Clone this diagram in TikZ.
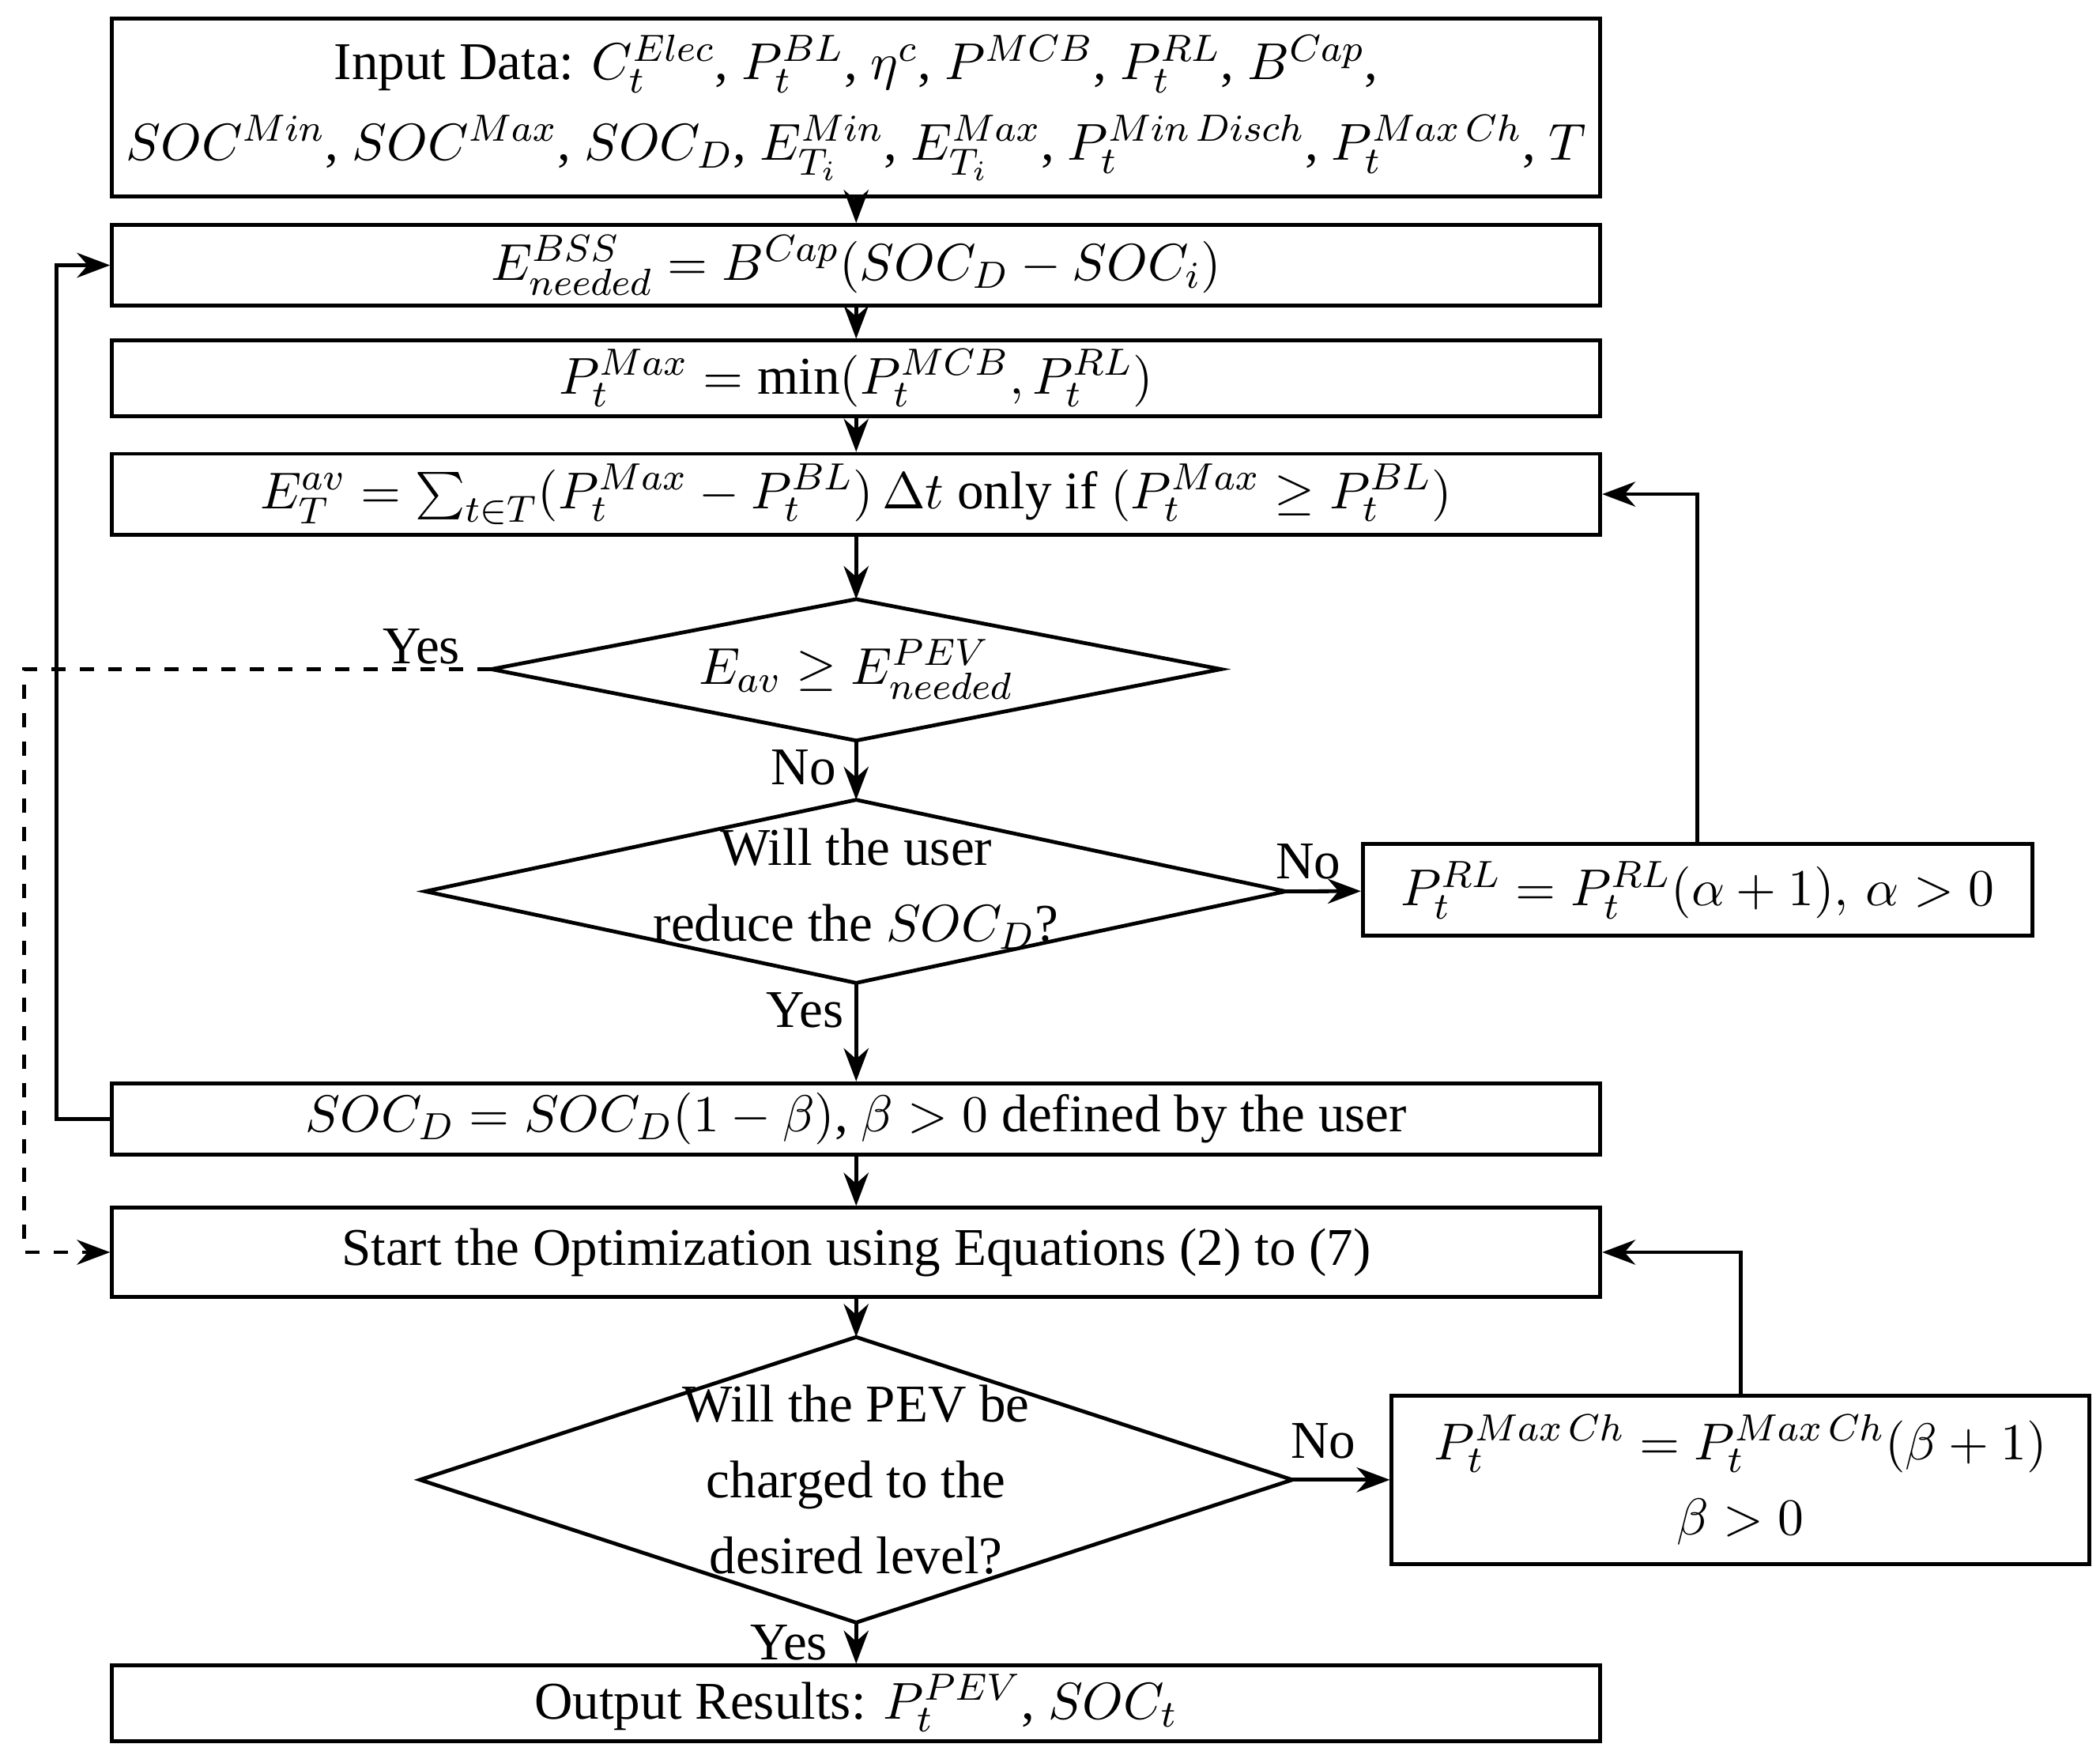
\documentclass[tikz,border=0pt]{standalone}
\usepackage{fontspec}
\setmainfont{Liberation Serif}
\usetikzlibrary{shapes.geometric,arrows.meta}
\begin{document}
\begin{tikzpicture}[x=0.01cm,y=-0.01cm,font=\fontsize{11.2}{15}\selectfont,
 box/.style={draw,thick,minimum width=11.05cm,align=center,inner sep=0pt},
 arr/.style={thick,-{Stealth[length=7pt]}},
 lab/.style={inner sep=1pt}]
\useasboundingbox (0,0) rectangle (1560,1306);
\node[box,minimum height=1.32cm] (in) at (636,80) {Input Data: $C_t^{Elec}$, $P_t^{BL}$, $\eta^c$, $P^{MCB}$, $P_t^{RL}$, $B^{Cap}$,\\[2pt] $SOC^{Min}$, $SOC^{Max}$, $SOC_D$, $E_{T_i}^{Min}$, $E_{T_i}^{Max}$, $P_t^{Min\,Disch}$, $P_t^{Max\,Ch}$, $T$};
\node[box,minimum height=0.6cm] (en) at (636,197) {$E^{BSS}_{needed}=B^{Cap}(SOC_D-SOC_i)$};
\node[box,minimum height=0.56cm] (pm) at (636,281) {$P_t^{Max}=\min(P_t^{MCB},P_t^{RL})$};
\node[box,minimum height=0.6cm] (ea) at (636,367) {$E_T^{av}=\sum_{t\in T}(P_t^{Max}-P_t^{BL})\,\Delta t$ only if $(P_t^{Max}\ge P_t^{BL})$};
\draw[thick] (365,497) -- (636,445) -- (907,497) -- (636,550) -- cycle;
\coordinate (d1l) at (365,497);
\node (d1) at (636,497) {$E_{av}\ge E^{PEV}_{needed}$};
\draw[thick] (316,662) -- (636,594) -- (955,662) -- (636,730) -- cycle;
\node[align=center] (d2) at (636,660) {Will the user\\[1pt] reduce the $SOC_D$?};
\coordinate (d2t) at (636,594); \coordinate (d2r) at (955,662); \coordinate (d2b) at (636,730);
\coordinate (d1b) at (636,550); \coordinate (d1t) at (636,445);
\node[draw,thick,minimum width=4.97cm,minimum height=0.68cm] (rl) at (1261,661) {$P_t^{RL}=P_t^{RL}(\alpha+1),\,\alpha>0$};
\node[box,minimum height=0.53cm] (soc) at (636,831) {$SOC_D=SOC_D(1-\beta)$, $\beta>0$ defined by the user};
\node[box,minimum height=0.66cm] (st) at (636,930) {Start the Optimization using Equations (2) to (7)};
\draw[thick] (312,1099) -- (636,993) -- (960,1099) -- (636,1205) -- cycle;
\node[align=center] (d3) at (636,1099) {Will the PEV be\\[1pt] charged to the\\[1pt] desired level?};
\coordinate (d3t) at (636,993); \coordinate (d3r) at (960,1099); \coordinate (d3b) at (636,1205);
\node[draw,thick,minimum width=5.18cm,minimum height=1.25cm,align=center] (ch) at (1293,1099) {$P_t^{Max\,Ch}=P_t^{Max\,Ch}(\beta+1)$\\[1pt] $\beta>0$};
\node[box,minimum height=0.56cm] (out) at (636,1265) {Output Results: $P_t^{PEV}$, $SOC_t$};
\draw[arr] (in) -- (en); \draw[arr] (en) -- (pm); \draw[arr] (pm) -- (ea);
\draw[arr] (ea) -- (d1t); \draw[arr] (d1b) -- (d2t); \draw[arr] (d2b) -- (soc);
\draw[arr] (d2r) -- (rl); \draw[arr] (soc) -- (st); \draw[arr] (st) -- (d3t);
\draw[arr] (d3r) -- (ch); \draw[arr] (d3b) -- (out);
\draw[arr] (soc.west) -- (42,831) -- (42,197) -- (en.west);
\draw[arr] (rl.north) |- (ea.east);
\draw[arr] (ch.north) |- (st.east);
\draw[arr,dashed] (d1l) -- (18,497) -- (18,930) -- (st.west);
\node[lab] at (313,480) {Yes};
\node[lab] at (597,570) {No};
\node[lab] at (972,640) {No};
\node[lab] at (598,750) {Yes};
\node[lab] at (983,1070) {No};
\node[lab] at (586,1220) {Yes};
\end{tikzpicture}
\end{document}
